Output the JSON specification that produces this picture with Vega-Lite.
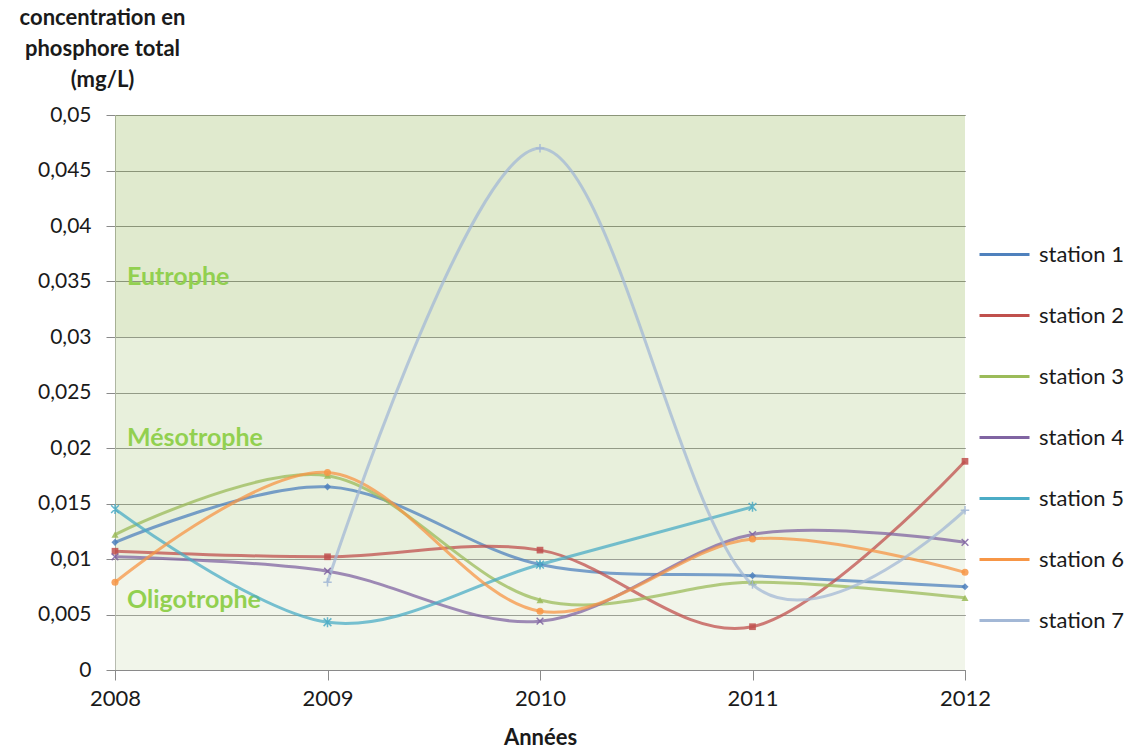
{
  "$schema": "https://vega.github.io/schema/vega-lite/v6.json",
  "width": 850,
  "height": 555,
  "autosize": {"type": "none"},
  "padding": {"left": 115, "top": 115, "right": 164, "bottom": 78},
  "background": "white",
  "datasets": {
    "measures": [
      {"year": 2008, "station": "station 1", "value": 0.0115},
      {"year": 2009, "station": "station 1", "value": 0.0165},
      {"year": 2010, "station": "station 1", "value": 0.0095},
      {"year": 2011, "station": "station 1", "value": 0.0085},
      {"year": 2012, "station": "station 1", "value": 0.0075},
      {"year": 2008, "station": "station 2", "value": 0.0107},
      {"year": 2009, "station": "station 2", "value": 0.0102},
      {"year": 2010, "station": "station 2", "value": 0.0108},
      {"year": 2011, "station": "station 2", "value": 0.0039},
      {"year": 2012, "station": "station 2", "value": 0.0188},
      {"year": 2008, "station": "station 3", "value": 0.0122},
      {"year": 2009, "station": "station 3", "value": 0.0175},
      {"year": 2010, "station": "station 3", "value": 0.0063},
      {"year": 2011, "station": "station 3", "value": 0.0079},
      {"year": 2012, "station": "station 3", "value": 0.0065},
      {"year": 2008, "station": "station 4", "value": 0.0102},
      {"year": 2009, "station": "station 4", "value": 0.0089},
      {"year": 2010, "station": "station 4", "value": 0.0044},
      {"year": 2011, "station": "station 4", "value": 0.0122},
      {"year": 2012, "station": "station 4", "value": 0.0115},
      {"year": 2008, "station": "station 5", "value": 0.0145},
      {"year": 2009, "station": "station 5", "value": 0.0043},
      {"year": 2010, "station": "station 5", "value": 0.0095},
      {"year": 2011, "station": "station 5", "value": 0.0147},
      {"year": 2008, "station": "station 6", "value": 0.0079},
      {"year": 2009, "station": "station 6", "value": 0.0178},
      {"year": 2010, "station": "station 6", "value": 0.0053},
      {"year": 2011, "station": "station 6", "value": 0.0118},
      {"year": 2012, "station": "station 6", "value": 0.0088},
      {"year": 2009, "station": "station 7", "value": 0.0079},
      {"year": 2010, "station": "station 7", "value": 0.047},
      {"year": 2011, "station": "station 7", "value": 0.0077},
      {"year": 2012, "station": "station 7", "value": 0.0144}
    ],
    "zones": [
      {"zone": "Oligotrophe", "lo": 0, "hi": 0.01, "label_at": 0.0063},
      {"zone": "Mésotrophe", "lo": 0.01, "hi": 0.03, "label_at": 0.0209},
      {"zone": "Eutrophe", "lo": 0.03, "hi": 0.05, "label_at": 0.0354}
    ]
  },
  "config": {
    "view": {"stroke": null},
    "font": "Lato",
    "axis": {
      "labelFont": "Lato",
      "labelColor": "#1a1a1a",
      "domainColor": "#8a8a8a",
      "tickColor": "#8a8a8a",
      "gridColor": "#555555",
      "gridOpacity": 1,
      "titleFont": "Lato",
      "titleFontSize": 22,
      "titleFontWeight": "bold",
      "titleColor": "#1a1a1a",
      "labelFlush": false
    }
  },
  "resolve": {"scale": {"fill": "independent", "stroke": "independent"}},
  "layer": [
    {
      "data": {"name": "zones"},
      "mark": {"type": "rect", "opacity": 0.5},
      "encoding": {
        "y": {
          "field": "lo", "type": "quantitative",
          "scale": {"domain": [0, 0.05], "nice": false},
          "axis": {
            "title": ["concentration en", "phosphore total", "(mg/L)"],
            "grid": true, "tickSize": 9, "labelPadding": 15, "labelFontSize": 21,
            "values": [0, 0.005, 0.01, 0.015, 0.02, 0.025, 0.03, 0.035, 0.04, 0.045, 0.05],
            "labelExpr": "replace(format(datum.value, '.3~f'), '.', ',')",
            "titleAngle": 0, "titleAlign": "center", "titleBaseline": "top",
            "titleX": -13, "titleY": -108, "titleLineHeight": 31
          }
        },
        "y2": {"field": "hi"},
        "fill": {
          "field": "zone", "type": "nominal",
          "scale": {"domain": ["Oligotrophe", "Mésotrophe", "Eutrophe"], "range": ["#e3ebd5", "#d1e1b9", "#c1d59d"]},
          "legend": null
        }
      }
    },
    {
      "data": {"name": "zones"},
      "mark": {"type": "text", "align": "left", "baseline": "middle", "dx": 12, "fontSize": 25, "fontWeight": "bold", "font": "Lato", "color": "#92d050"},
      "encoding": {
        "x": {"datum": 2008, "type": "quantitative"},
        "y": {"field": "label_at", "type": "quantitative"},
        "text": {"field": "zone"}
      }
    },
    {
      "data": {"name": "measures"},
      "mark": {"type": "line", "interpolate": "cardinal", "strokeWidth": 3, "opacity": 0.75},
      "encoding": {
        "x": {
          "field": "year", "type": "quantitative",
          "scale": {"domain": [2008, 2012], "nice": false, "zero": false},
          "axis": {"title": "Années", "grid": false, "tickSize": 10, "labelPadding": 8, "labelFontSize": 22, "values": [2008, 2009, 2010, 2011, 2012], "format": "d", "titlePadding": 18, "labelFlush": false}
        },
        "y": {"field": "value", "type": "quantitative"},
        "color": {
          "field": "station", "type": "nominal",
          "scale": {
            "domain": ["station 1", "station 2", "station 3", "station 4", "station 5", "station 6", "station 7"],
            "range": ["#4f81bd", "#c0504d", "#9bbb59", "#8064a2", "#4bacc6", "#f79646", "#a3b8d6"]
          },
          "legend": {
            "title": null, "orient": "none", "legendX": 863, "legendY": 113,
            "labelFont": "Lato", "labelFontSize": 22, "labelColor": "#1a1a1a",
            "rowPadding": 23, "symbolType": "stroke", "symbolSize": 2500, "labelOffset": 8,
            "symbolStrokeWidth": 3, "symbolOpacity": 1
          }
        }
      }
    },
    {
      "data": {"name": "measures"},
      "transform": [{"filter": "datum.station == 'station 1'"}],
      "mark": {"type": "point", "shape": "diamond", "filled": true, "size": 50, "opacity": 0.85, "color": "#4f81bd"},
      "encoding": {"x": {"field": "year", "type": "quantitative"}, "y": {"field": "value", "type": "quantitative"}}
    },
    {
      "data": {"name": "measures"},
      "transform": [{"filter": "datum.station == 'station 2'"}],
      "mark": {"type": "point", "shape": "square", "filled": true, "size": 45, "opacity": 0.85, "color": "#c0504d"},
      "encoding": {"x": {"field": "year", "type": "quantitative"}, "y": {"field": "value", "type": "quantitative"}}
    },
    {
      "data": {"name": "measures"},
      "transform": [{"filter": "datum.station == 'station 3'"}],
      "mark": {"type": "point", "shape": "triangle-up", "filled": true, "size": 50, "opacity": 0.85, "color": "#9bbb59"},
      "encoding": {"x": {"field": "year", "type": "quantitative"}, "y": {"field": "value", "type": "quantitative"}}
    },
    {
      "data": {"name": "measures"},
      "transform": [{"filter": "datum.station == 'station 4'"}],
      "mark": {"type": "point", "shape": "M-1,-1L1,1M-1,1L1,-1", "filled": false, "strokeWidth": 1.5, "size": 45, "opacity": 0.85, "color": "#8064a2"},
      "encoding": {"x": {"field": "year", "type": "quantitative"}, "y": {"field": "value", "type": "quantitative"}}
    },
    {
      "data": {"name": "measures"},
      "transform": [{"filter": "datum.station == 'station 5'"}],
      "mark": {"type": "point", "shape": "M-1,-1L1,1M-1,1L1,-1M0,-1.3L0,1.3", "filled": false, "strokeWidth": 1.5, "size": 60, "opacity": 0.85, "color": "#4bacc6"},
      "encoding": {"x": {"field": "year", "type": "quantitative"}, "y": {"field": "value", "type": "quantitative"}}
    },
    {
      "data": {"name": "measures"},
      "transform": [{"filter": "datum.station == 'station 6'"}],
      "mark": {"type": "point", "shape": "circle", "filled": true, "size": 50, "opacity": 0.85, "color": "#f79646"},
      "encoding": {"x": {"field": "year", "type": "quantitative"}, "y": {"field": "value", "type": "quantitative"}}
    },
    {
      "data": {"name": "measures"},
      "transform": [{"filter": "datum.station == 'station 7'"}],
      "mark": {"type": "point", "shape": "M-1.2,0L1.2,0M0,-1.2L0,1.2", "filled": false, "strokeWidth": 1.5, "size": 50, "opacity": 0.85, "color": "#a3b8d6"},
      "encoding": {"x": {"field": "year", "type": "quantitative"}, "y": {"field": "value", "type": "quantitative"}}
    }
  ]
}
